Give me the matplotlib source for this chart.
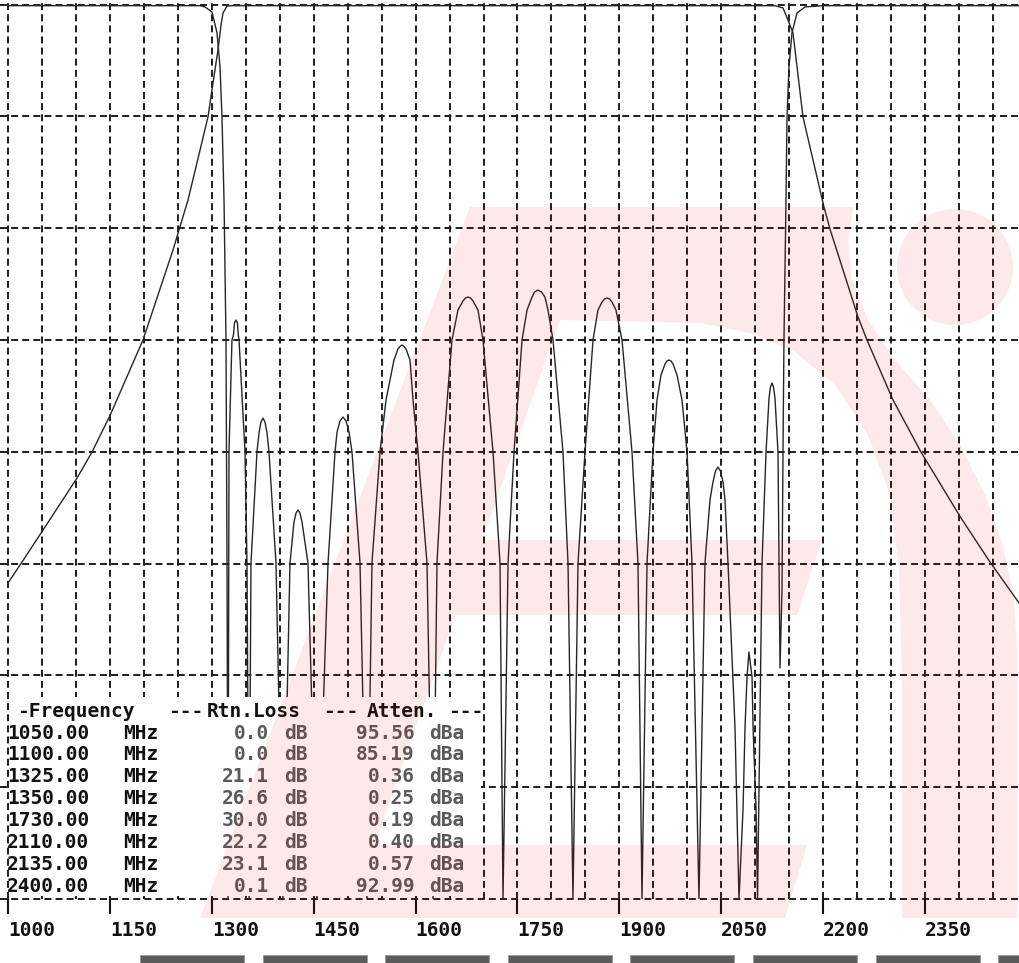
import numpy as np
import matplotlib
matplotlib.use("Agg")
import matplotlib.pyplot as plt
from matplotlib.patches import Rectangle, Polygon, Circle
from matplotlib.transforms import Affine2D

plt.rcParams['lines.scale_dashes'] = False

# ---------------- data ----------------
# Attenuation (insertion loss) trace: frequency in MHz, level in dB
atten_mhz = [1000.0, 1017.7, 1051.5, 1101.6, 1123.7, 1150.2, 1198.7, 1242.9, 1265.0,
             1294.4, 1301.8, 1309.1, 1313.6, 1316.5, 1322.4, 1330.0, 2129.1, 2140.9,
             2148.2, 2155.6, 2170.3, 2201.2, 2210.0, 2251.3, 2264.5, 2302.8, 2344.0,
             2402.9, 2445.6, 2488.3]
atten_db = [-51.74, -50.13, -47.00, -42.35, -40.02, -36.75, -30.00, -21.95, -17.48,
            -10.05, -7.01, -4.06, -1.82, -0.75, -0.13, -0.10, -0.10, -0.30,
            -1.38, -2.54, -10.05, -18.10, -20.07, -27.94, -30.00, -35.37, -40.02,
            -45.92, -49.86, -53.52]

# Return loss trace: frequency in MHz, level in dB
rl_mhz = [1000.0, 1282.6, 1290.0, 1300.3, 1307.7, 1312.1, 1315.0, 1318.0, 1320.9, 1322.4,
          1323.9, 1325.3, 1329.7, 1331.9, 1333.4, 1335.6, 1337.8, 1339.0, 1340.1, 1348.9, 1351.8,
          1354.8, 1357.7, 1366.5, 1369.5, 1372.4, 1375.4, 1378.3, 1381.3, 1384.2, 1394.5,
          1404.8, 1415.1, 1421.0, 1424.0, 1426.9, 1429.8, 1432.8, 1441.6,
          1454.9, 1471.1, 1481.4, 1484.4, 1488.7, 1493.2, 1497.6, 1502.0, 1506.4, 1518.2,
          1528.5, 1535.8, 1547.6, 1556.5, 1568.2, 1574.1, 1577.1, 1580.0, 1582.9, 1585.9, 1591.8,
          1596.2, 1603.6, 1616.8,
          1625.6, 1631.5, 1640.4, 1653.6, 1662.4, 1669.8, 1673.5, 1677.2, 1680.9, 1684.5, 1691.9,
          1699.2, 1714.0, 1724.3,
          1728.7, 1736.1, 1744.9, 1756.7, 1764.1, 1771.4, 1775.1, 1780.2, 1785.4, 1790.5, 1794.9,
          1802.3, 1817.0, 1824.4,
          1831.7, 1839.1, 1849.4, 1861.2, 1868.5, 1874.4, 1878.1, 1881.8, 1885.5, 1889.1, 1895.0,
          1903.9, 1918.6, 1927.4,
          1933.3, 1940.7, 1949.5, 1955.4, 1961.3, 1967.2, 1970.1, 1973.1, 1976.0, 1979.0, 1984.9,
          1992.2, 1999.6, 2006.9,
          2017.2, 2026.0, 2033.4, 2037.8, 2041.5, 2045.2, 2048.8, 2052.6, 2055.5, 2059.9, 2070.2,
          2076.1, 2082.0, 2085.0, 2087.9, 2090.8, 2095.3, 2096.8, 2101.2,
          2103.4, 2110.0, 2115.9, 2120.3, 2122.4, 2124.7, 2126.9, 2129.1, 2133.5, 2135.0,
          2136.5, 2139.4, 2140.9, 2142.3, 2145.3, 2146.8, 2149.7, 2154.1, 2161.5, 2173.3, 2199.8, 2488.3]
rl_db = [-0.10, -0.10, -0.21, -0.66, -2.54, -5.58, -10.05, -17.48, -30.00, -49.95,
         -80.0, -40.02, -30.00, -29.55, -28.48, -28.21, -28.48, -29.55, -30.00, -40.02, -49.95,
         -80.0, -49.95, -40.02, -38.32, -37.34, -36.98, -37.34, -38.32, -40.02, -49.95,
         -80.0, -49.95, -46.28, -45.48, -45.21, -45.48, -46.28, -49.95,
         -80.0, -49.95, -40.02, -38.23, -37.25, -36.89, -37.25, -38.23, -40.02, -49.95,
         -80.0, -49.95, -40.02, -35.37, -31.79, -30.80, -30.58, -30.45, -30.58, -30.80, -31.79,
         -35.37, -40.02, -49.95,
         -80.0, -49.95, -40.02, -30.00, -27.32, -26.51, -26.24, -26.16, -26.24, -26.51, -27.32,
         -30.00, -40.02, -49.95,
         -80.0, -49.95, -40.02, -30.00, -27.32, -26.16, -25.71, -25.53, -25.71, -26.16, -27.32,
         -30.00, -40.02, -49.95,
         -80.0, -49.95, -40.02, -30.00, -27.32, -26.61, -26.33, -26.25, -26.33, -26.61, -27.32,
         -30.00, -40.02, -49.95,
         -80.0, -49.95, -40.02, -35.37, -33.13, -32.15, -31.88, -31.79, -31.88, -32.15, -33.13,
         -35.37, -40.02, -49.95,
         -80.0, -49.95, -44.31, -42.70, -41.72, -41.36, -41.72, -42.70, -44.31, -49.95, -64.62,
         -80.0, -72.05, -64.62, -60.15, -57.91, -60.15, -64.62, -72.05,
         -80.0, -49.95, -40.02, -35.20, -34.21, -33.85, -34.21, -35.20, -40.02, -49.95,
         -59.34, -52.36, -39.84, -30.00, -17.48, -10.05, -5.58, -2.54, -0.75, -0.21, -0.10, -0.10]

tick_mhz = [1000, 1150, 1300, 1450, 1600, 1750, 1900, 2050, 2200, 2350]
tick_labels = ["1000", "1150", "1300", "1450", "1600", "1750", "1900", "2050", "2200", "2350"]

marker_freq = ["1050.00", "1100.00", "1325.00", "1350.00", "1730.00", "2110.00", "2135.00", "2400.00"]
marker_rtn = ["0.0", "0.0", "21.1", "26.6", "30.0", "22.2", "23.1", "0.1"]
marker_att = ["95.56", "85.19", "0.36", "0.25", "0.19", "0.40", "0.57", "92.99"]

# ---------------- layout ----------------
W, H = 1019, 963
fig = plt.figure(figsize=(W / 100, H / 100), dpi=100, facecolor='white')
PX = Affine2D().scale(1.0 / W, -1.0 / H).translate(0, 1) + fig.transFigure

ax = fig.add_axes([0, 1 - 899 / H, 1, 899 / H])
ax.set_facecolor('white')
ax.set_xlim(988.22, 2488.3)
ax.set_ylim(-80, 0.41)

grid_kw = dict(color='#1c1c1c', linewidth=1.4, linestyle=(0, (5.0, 3.0)))
ax.set_xticks(tick_mhz)
ax.set_xticks(np.arange(1000, 2451, 50), minor=True)
ax.set_yticks(np.arange(-80, 1, 10))
ax.xaxis.grid(True, which='both', **grid_kw)
ax.yaxis.grid(True, which='major', **grid_kw)
for t in ax.yaxis.get_major_ticks():
    t.gridline.set_clip_on(False)
ax.set_axisbelow(True)

for s in ax.spines.values():
    s.set_visible(False)

ax.set_xticklabels(tick_labels, fontfamily='DejaVu Sans Mono', fontweight='bold',
                   ha='left', color='#111111')
ax.tick_params(axis='x', which='major', direction='out', length=10.5, width=1.5,
               color='#111111', pad=5.5, labelsize=14)
ax.tick_params(axis='x', which='minor', length=0)
ax.tick_params(axis='y', which='both', left=False, labelleft=False, length=0)

ax.plot(atten_mhz, atten_db, color='#262626', lw=1.0, zorder=3)
ax.plot(rl_mhz, rl_db, color='#262626', lw=1.0, zorder=3)

# ---------------- marker table ----------------
fig.add_artist(Rectangle((9, 697), 472, 199, transform=PX, facecolor='white',
                         edgecolor='none', zorder=3))

FP = dict(fontfamily='DejaVu Sans Mono', fontweight='bold', fontsize=14, zorder=6)
CW = 14.56
hx = 17
hy = 716.7
header = [("-Frequency", 0, 'left'), ("---", 10.4, 'left'), ("Rtn.Loss", 13, 'left'),
          ("---", 21, 'left'), ("Atten.", 24, 'left'), ("---", 29.6, 'left')]
for s, cell, ha in header:
    fig.text(hx + cell * CW, hy, s, transform=PX, ha=ha, va='baseline',
             color='#111111', **FP)

x0 = 7
for i in range(len(marker_freq)):
    yb = 738.6 + 21.9 * i
    fig.text(x0, yb, marker_freq[i], transform=PX, ha='left', va='baseline', color='#111111', **FP)
    fig.text(x0 + 8 * CW, yb, "MHz", transform=PX, ha='left', va='baseline', color='#111111', **FP)
    fig.text(x0 + 18 * CW, yb, marker_rtn[i], transform=PX, ha='right', va='baseline', color='#5a5a5a', **FP)
    fig.text(x0 + 19 * CW, yb, "dB", transform=PX, ha='left', va='baseline', color='#5a5a5a', **FP)
    fig.text(x0 + 28 * CW, yb, marker_att[i], transform=PX, ha='right', va='baseline', color='#5a5a5a', **FP)
    fig.text(x0 + 29 * CW, yb, "dBa", transform=PX, ha='left', va='baseline', color='#5a5a5a', **FP)

# ---------------- soft-key bars ----------------
for i in range(8):
    fig.add_artist(Rectangle((140 + i * 122.6, 955), 104, 10, transform=PX,
                             facecolor='#5b5b5b', edgecolor='#9a9a9a', lw=0.6, zorder=4))

# ---------------- watermark logo ----------------
wm = dict(transform=PX, facecolor='#f00000', edgecolor='none', alpha=0.085, zorder=20)
stroke = [(470, 207), (600, 207), (374, 845), (807, 845), (785, 918), (200, 918)]
arc = [(600, 207), (853, 207), (848, 240), (852, 280), (868, 320), (895, 360), (930, 400),
       (960, 445), (985, 495), (1003, 545), (1014, 600), (1017, 650),
       (1017, 918), (902, 918), (902, 680), (899, 570), (890, 495), (868, 435),
       (835, 385), (795, 352), (750, 333), (700, 323), (560, 320)]
midbar = [(482.1, 540), (822, 540), (797, 615), (455.5, 615)]
for poly in (stroke, arc, midbar):
    fig.add_artist(Polygon(poly, closed=True, **wm))
fig.add_artist(Circle((955, 267), 58, **wm))

fig.savefig("out.png", dpi=100, facecolor='white')
